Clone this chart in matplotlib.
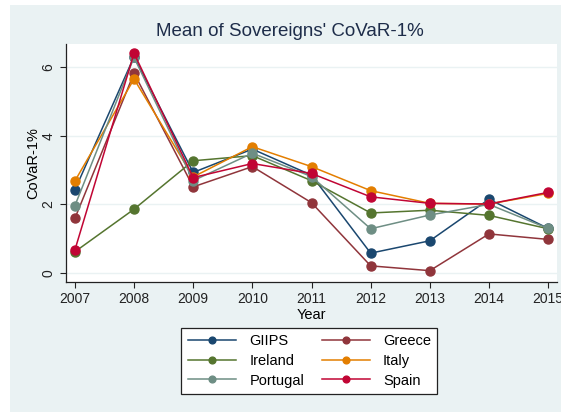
import matplotlib
matplotlib.use("Agg")
import matplotlib.pyplot as plt
from matplotlib.patches import Rectangle

plt.rcParams['font.family'] = ['Liberation Sans', 'DejaVu Sans']

years = [2007, 2008, 2009, 2010, 2011, 2012, 2013, 2014, 2015]
giips = [2.42, 6.30, 2.93, 3.61, 2.85, 0.58, 0.94, 2.15, 1.30]
greece = [1.59, 5.82, 2.51, 3.10, 2.05, 0.21, 0.07, 1.14, 0.98]
ireland = [0.62, 1.86, 3.27, 3.42, 2.69, 1.75, 1.83, 1.68, 1.29]
italy = [2.68, 5.65, 2.80, 3.68, 3.10, 2.40, 2.03, 2.01, 2.32]
portugal = [1.96, 6.28, 2.69, 3.49, 2.81, 1.29, 1.69, 2.00, 1.30]
spain = [0.67, 6.40, 2.78, 3.19, 2.90, 2.22, 2.03, 2.01, 2.35]

series = [
    ("GIIPS", giips, "#1a476f"),
    ("Greece", greece, "#90353b"),
    ("Ireland", ireland, "#55752f"),
    ("Italy", italy, "#e37e00"),
    ("Portugal", portugal, "#6e8e84"),
    ("Spain", spain, "#c10534"),
]

W, H = 561, 412
fig = plt.figure(figsize=(W / 100, H / 100), dpi=100)
fig.patch.set_facecolor("white")
bg = Rectangle((10 / W, 0), 1 - 10 / W, 1 - 5 / H, transform=fig.transFigure,
               facecolor="#eaf2f3", edgecolor="none", zorder=-10)
fig.add_artist(bg)

ax = fig.add_axes([66 / W, 1 - 282 / H, (557 - 66) / W, (282 - 44) / H])
ax.set_zorder(1)
ax.set_facecolor("white")

handles = {}
for name, vals, col in series:
    h, = ax.plot(years, vals, color=col, lw=1.1, marker="o", markersize=6.5,
                 markeredgecolor=col, label=name, clip_on=False)
    handles[name] = h

ax.set_xlim(2006.85, 2015.15)
ax.set_ylim(-0.26, 6.67)
ax.set_xticks(years)
ax.set_yticks([0, 2, 4, 6])
ax.grid(axis="y", color="#eaf2f3", lw=1.0)
ax.set_axisbelow(True)
for s in ["top", "right"]:
    ax.spines[s].set_visible(False)
for s in ["left", "bottom"]:
    ax.spines[s].set_color("#222222")
    ax.spines[s].set_linewidth(0.9)
ax.tick_params(axis="both", direction="out", length=4, width=0.8, labelsize=10, colors="#222222")
for lab in ax.get_yticklabels():
    lab.set_rotation(90)
    lab.set_va("center")
ax.set_xlabel("Year", fontsize=10.5, labelpad=1)
ax.set_ylabel("CoVaR-1%", fontsize=10.5, labelpad=1)

fig.text(0.517, 1 - 32 / H, "Mean of Sovereigns' CoVaR-1%", ha="center", va="center",
         fontsize=13.5, color="#1e2d4a")

order = ["GIIPS", "Ireland", "Portugal", "Greece", "Italy", "Spain"]
leg = fig.legend([handles[n] for n in order], order, ncol=2,
                 loc="center", bbox_to_anchor=((181 + 438) / 2 / W, 1 - 361 / H),
                 fontsize=10.5, frameon=True, fancybox=False, handlelength=3.3,
                 columnspacing=1.2, labelspacing=0.38, handletextpad=0.9,
                 borderpad=0.45, markerscale=0.75, framealpha=1)
leg.get_frame().set_edgecolor("#222222")
leg.get_frame().set_linewidth(0.9)
leg.get_frame().set_facecolor("white")
leg.set_zorder(5)

fig.savefig("out.png", dpi=100)
